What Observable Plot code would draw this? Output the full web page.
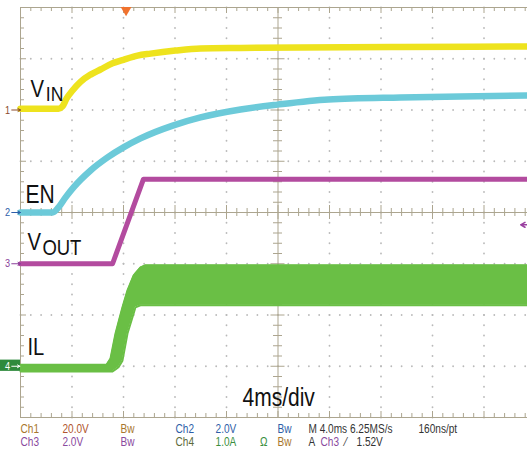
<!DOCTYPE html>
<html><head><meta charset="utf-8">
<script src="https://cdn.jsdelivr.net/npm/d3@7"></script>
<script src="https://cdn.jsdelivr.net/npm/@observablehq/plot@0.6"></script>
<style>
html,body{margin:0;padding:0;background:#fff;overflow:hidden;}
#chart svg{display:block;}
</style></head><body><div id="chart"></div>
<script>
// ---- data (time in ms, 4 ms/div) ----
const vinTime  = [0, 2.95, 3.26, 3.57, 4.04, 4.66, 5.44, 6.21, 7.15, 8.0, 9.09, 10.1, 12.04, 13.98, 17.09, 21.75, 29.51, 40];
const vinVolts = [0.5, 0.5, 1.4, 4.4, 7.6, 11.0, 13.8, 15.8, 18.2, 19.6, 21.2, 22.0, 23.2, 24.0, 24.2, 24.4, 24.6, 24.8];

const enTime  = [0, 2.49, 2.95, 3.50, 4.12, 5.44, 6.76, 8.0, 9.32, 11.88, 13.98, 17.09, 19.96, 23.92, 29.51, 34.17, 40];
const enVolts = [0, 0, 0.2, 0.59, 0.98, 1.64, 2.15, 2.54, 2.89, 3.40, 3.71, 4.02, 4.21, 4.41, 4.49, 4.53, 4.57];

const voutTime  = [0, 7.15, 9.55, 40];
const voutVolts = [0, 0, 3.3, 3.3];

const ilHiTime = [0, 6.68, 6.99, 7.38, 7.92, 8.31, 8.78, 9.32, 9.71, 40];
const ilHiAmps = [0.03, 0.03, 0.15, 0.64, 1.15, 1.48, 1.77, 1.93, 1.97, 1.97];
const ilLoTime = [0, 7.15, 7.61, 7.92, 8.31, 8.93, 9.32, 40];
const ilLoAmps = [-0.10, -0.10, -0.02, 0.11, 0.64, 1.15, 1.19, 1.19];

// channel settings: units per division and ground position (divisions from centre)
const chScale  = {ch1: 20, ch2: 2, ch3: 2, ch4: 1};
const chOffset = {ch1: 2,  ch2: 0, ch3: -1, ch4: -3};
const trigLevel = 1.52; // V on Ch3
const trigTime = 8.2;   // ms

const readoutText = ["Ch1","20.0V","Bw","Ch2","2.0V","Bw","M 4.0ms 6.25MS/s","160ns/pt",
                     "Ch3","2.0V","Bw","Ch4","1.0A","Ω","Bw","A","Ch3","⁄","1.52V"];
const readoutX    = [0,3.26,7.77,12.04,15.15,19.96,22.37,30.91,
                     0,3.26,7.77,12.04,15.15,18.6,19.96,22.37,23.3,25.2,26.1];
const readoutRow  = [0,0,0,0,0,0,0,0, 1,1,1,1,1,1,1,1,1,1,1];
const readoutCol  = ["#a8762c","#b0552e","#a8762c","#2d5ea8","#2d5ea8","#2d5ea8","#333","#333",
                     "#8a4a9e","#8a4a9e","#8a4a9e","#5d6a3a","#3b8f3e","#3b8f3e","#a8762c","#333","#8a4a9e","#333","#333"];

// ---- helpers ----
const toDiv = (ch, v) => chOffset[ch] + v / chScale[ch];
const series = (ts, vs, ch) => ts.map((t, i) => ({t, d: toDiv(ch, vs[i])}));
const vin = series(vinTime, vinVolts, "ch1");
const en = series(enTime, enVolts, "ch2");
const vout = series(voutTime, voutVolts, "ch3");
const ilHi = series(ilHiTime, ilHiAmps, "ch4");
const ilLo = series(ilLoTime, ilLoAmps, "ch4");
const ilT = Array.from(new Set([...ilHiTime, ...ilLoTime])).sort((a,b)=>a-b);
const interp = (arr, t) => { for (let i=1;i<arr.length;i++){ if (t<=arr[i].t){ const a=arr[i-1], b=arr[i]; return a.d + (b.d-a.d)*(t-a.t)/((b.t-a.t)||1);} } return arr[arr.length-1].d; };
const il = ilT.map(t => ({t, hi: interp(ilHi, t), lo: interp(ilLo, t)}));

// graticule
const gridDots = [];
for (let k = 1; k <= 9; k++) if (k !== 5) for (let j = 0; j <= 40; j++) gridDots.push({t: 4*k, d: -4 + j*0.2});
for (let k = -3; k <= 3; k++) if (k !== 0) for (let j = 0; j <= 50; j++) gridDots.push({t: j*0.8, d: k});
const xTicks = d3.range(0, 50.5).map(j => ({t: j*0.8, major: j % 5 === 0}));
const yTicks = d3.range(0, 40.5).map(j => ({d: -4 + j*0.2, major: j % 5 === 0}));
const px = 4/51.5, py = 1/51.25; // one pixel in ms / div
const axisCol = "#aca58f";

const font = "'Liberation Sans',Arial,sans-serif";

const chart = Plot.plot({
  width: 527, height: 450,
  marginLeft: 20, marginRight: 0, marginTop: 7, marginBottom: 33,
  x: {domain: [0, 40], range: [20, 535], axis: null},
  y: {domain: [-4, 4], range: [417, 7], axis: null},
  style: {fontFamily: font, background: "#fff", overflow: "visible"},
  marks: [
    Plot.dot(gridDots, {x: "t", y: "d", r: 0.9, fill: "#b9b9b9", stroke: null}),
    // frame
    Plot.ruleY([4, -4], {x1: 0, x2: 40, stroke: axisCol, strokeWidth: 1}),
    Plot.ruleX([0], {y1: -4, y2: 4, stroke: axisCol, strokeWidth: 1}),
    Plot.ruleY([0], {x1: 0, x2: 40, stroke: axisCol, strokeWidth: 1}),
    Plot.ruleX([20], {y1: -4, y2: 4, stroke: axisCol, strokeWidth: 1}),
    // ticks
    Plot.ruleX(xTicks, {x: "t", y1: 4, y2: d => 4 - (d.major ? 6 : 4)*py, stroke: axisCol}),
    Plot.ruleX(xTicks, {x: "t", y1: -4, y2: d => -4 + (d.major ? 6 : 4)*py, stroke: axisCol}),
    Plot.ruleX(xTicks, {x: "t", y1: d => -(d.major ? 7 : 4)*py, y2: d => (d.major ? 7 : 4)*py, stroke: axisCol}),
    Plot.ruleY(yTicks, {y: "d", x1: 0, x2: d => (d.major ? 6 : 4)*px, stroke: axisCol}),
    Plot.ruleY(yTicks, {y: "d", x1: d => 20 - (d.major ? 7 : 4.5)*px, x2: d => 20 + (d.major ? 7 : 4.5)*px, stroke: axisCol}),
    // traces
    Plot.areaY(il, {x: "t", y1: "lo", y2: "hi", fill: "#6abf45"}),
    Plot.line(il, {x: "t", y: "hi", stroke: "#6abf45", strokeWidth: 2}),
    Plot.line(il, {x: "t", y: "lo", stroke: "#6abf45", strokeWidth: 2}),
    Plot.line(vout, {x: "t", y: "d", stroke: "#b34b9f", strokeWidth: 5}),
    Plot.line(en, {x: "t", y: "d", stroke: "#6ccad9", strokeWidth: 6.5, curve: "monotone-x"}),
    Plot.line(vin, {x: "t", y: "d", stroke: "#eee31e", strokeWidth: 6.5, curve: "monotone-x"}),
    // trace labels
    Plot.text(["V"], {x: 0.78, y: 2.244, text: d => d, textAnchor: "start", lineAnchor: "bottom", fontSize: 24, fill: "#111"}),
    Plot.text(["IN"], {x: 1.97, y: 2.185, text: d => d, textAnchor: "start", lineAnchor: "bottom", fontSize: 21, fill: "#111"}),
    Plot.text(["EN"], {x: 0.39, y: 0.176, text: d => d, textAnchor: "start", lineAnchor: "bottom", fontSize: 25, fill: "#111"}),
    Plot.text(["V"], {x: 0.54, y: -0.741, text: d => d, textAnchor: "start", lineAnchor: "bottom", fontSize: 24, fill: "#111"}),
    Plot.text(["OUT"], {x: 1.70, y: -0.839, text: d => d, textAnchor: "start", lineAnchor: "bottom", fontSize: 22, fill: "#111"}),
    Plot.text(["IL"], {x: 0.54, y: -2.79, text: d => d, textAnchor: "start", lineAnchor: "bottom", fontSize: 24, fill: "#111"}),
    Plot.text(["4ms/div"], {x: 17.24, y: -3.766, text: d => d, textAnchor: "start", lineAnchor: "bottom", fontSize: 25, fill: "#111"}),
    // channel ground markers
    Plot.text(["1"], {x: -1.0, y: chOffset.ch1, text: d => d, fontSize: 11, fill: "#8a4a2a"}),
    Plot.arrow([0], {x1: -0.68, x2: 0, y1: chOffset.ch1, y2: chOffset.ch1, stroke: "#8a4a2a", headLength: 5, strokeWidth: 1}),
    Plot.text(["2"], {x: -1.0, y: chOffset.ch2, text: d => d, fontSize: 11, fill: "#2d5ea8"}),
    Plot.arrow([0], {x1: -0.68, x2: 0, y1: chOffset.ch2, y2: chOffset.ch2, stroke: "#2d5ea8", headLength: 5, strokeWidth: 1}),
    Plot.text(["3"], {x: -1.0, y: chOffset.ch3, text: d => d, fontSize: 11, fill: "#8a3f9a"}),
    Plot.arrow([0], {x1: -0.68, x2: 0, y1: chOffset.ch3, y2: chOffset.ch3, stroke: "#8a3f9a", headLength: 5, strokeWidth: 1}),
    Plot.rect([0], {x1: -1.56, x2: 0, y1: chOffset.ch4 - 0.1, y2: chOffset.ch4 + 0.12, fill: "#2e8a3c"}),
    Plot.text(["4"], {x: -1.0, y: chOffset.ch4, text: d => d, fontSize: 11, fill: "#fff"}),
    Plot.arrow([0], {x1: -0.68, x2: -0.05, y1: chOffset.ch4, y2: chOffset.ch4, stroke: "#fff", headLength: 4, strokeWidth: 1}),
    // trigger markers
    Plot.dot([trigTime], {x: d => d, y: 4, dy: 2.5, symbol: "triangle", rotate: 180, r: 4, fill: "#f0722e", stroke: null}),
    Plot.arrow([0], {x1: 40, x2: 38.85, y1: toDiv("ch3", trigLevel), y2: toDiv("ch3", trigLevel), stroke: "#9a3fa0", headLength: 5, strokeWidth: 1.5}),
    // readout
    Plot.text(readoutText.map((s, i) => ({s, t: readoutX[i], r: readoutRow[i], c: readoutCol[i]})),
      {x: "t", y: d => d.r ? -4.488 : -4.234, text: "s", fill: "c", textAnchor: "start", lineAnchor: "middle", fontSize: 12})
  ]
});
document.getElementById("chart").append(chart);
// narrow the typeface (the scope uses a condensed sans)
chart.querySelectorAll("text").forEach(el => {
  const w = el.getComputedTextLength();
  if (w > 0) { el.setAttribute("textLength", (w * 0.84).toFixed(1)); el.setAttribute("lengthAdjust", "spacingAndGlyphs"); }
});
</script></body></html>
